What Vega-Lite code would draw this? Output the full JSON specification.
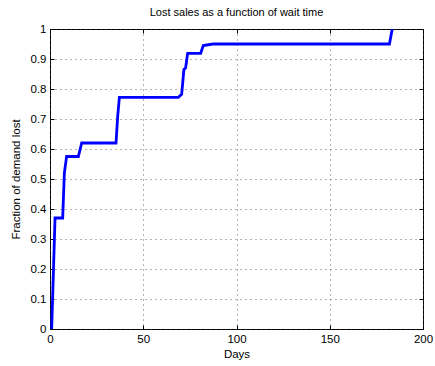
{
  "$schema": "https://vega.github.io/schema/vega-lite/v6.json",
  "autosize": "none",
  "width": 373,
  "height": 300,
  "padding": {"left": 50, "top": 29, "right": 12, "bottom": 37},
  "background": "white",
  "config": {
    "font": "Liberation Sans",
    "view": {"stroke": "black", "strokeWidth": 1},
    "axis": {
      "labelFont": "Liberation Sans",
      "titleFont": "Liberation Sans",
      "labelFontSize": 11.5,
      "titleFontSize": 11.5,
      "titleFontWeight": "normal",
      "labelColor": "black",
      "titleColor": "black",
      "labelFlush": false,
      "labelOverlap": false,
      "domain": false,
      "tickColor": "black",
      "tickSize": -4,
      "grid": true,
      "gridColor": "#444444",
      "gridDash": [1, 4],
      "gridOpacity": 0.8
    }
  },
  "title": {"text": "Lost sales as a function of wait time", "fontSize": 11, "fontWeight": "normal", "font": "Liberation Sans", "offset": 5, "color": "black"},
  "data": {"values": [
    {"day": 0.9, "frac": 0},
    {"day": 2.7, "frac": 0.37},
    {"day": 6.8, "frac": 0.37},
    {"day": 7.7, "frac": 0.52},
    {"day": 8.9, "frac": 0.575},
    {"day": 15.2, "frac": 0.575},
    {"day": 17, "frac": 0.62},
    {"day": 35.4, "frac": 0.62},
    {"day": 36.3, "frac": 0.71},
    {"day": 37.2, "frac": 0.772},
    {"day": 68.8, "frac": 0.772},
    {"day": 70.6, "frac": 0.782},
    {"day": 71.8, "frac": 0.865},
    {"day": 72.7, "frac": 0.87},
    {"day": 73.8, "frac": 0.919},
    {"day": 80.8, "frac": 0.919},
    {"day": 82.2, "frac": 0.945},
    {"day": 87.4, "frac": 0.95},
    {"day": 182, "frac": 0.95},
    {"day": 183.5, "frac": 1}
  ]},
  "resolve": {"axis": {"x": "independent", "y": "independent"}},
  "layer": [
    {
      "mark": {"type": "line", "color": "#0000ff", "strokeWidth": 2.8, "clip": true},
      "encoding": {
        "x": {"field": "day", "type": "quantitative", "scale": {"domain": [0, 200], "nice": false},
              "axis": {"title": "Days", "values": [0, 50, 100, 150, 200], "labelPadding": 8, "titlePadding": 4}},
        "y": {"field": "frac", "type": "quantitative", "scale": {"domain": [0, 1], "nice": false},
              "axis": {"title": "Fraction of demand lost", "values": [0, 0.1, 0.2, 0.3, 0.4, 0.5, 0.6, 0.7, 0.8, 0.9, 1], "labelPadding": 8, "titlePadding": 9, "format": "~g"}}
      }
    },
    {
      "mark": {"type": "line", "opacity": 0},
      "encoding": {
        "x": {"field": "day", "type": "quantitative", "scale": {"domain": [0, 200], "nice": false},
              "axis": {"orient": "top", "title": null, "labels": false, "grid": false, "values": [0, 50, 100, 150, 200]}},
        "y": {"field": "frac", "type": "quantitative", "scale": {"domain": [0, 1], "nice": false},
              "axis": {"orient": "right", "title": null, "labels": false, "grid": false, "values": [0, 0.1, 0.2, 0.3, 0.4, 0.5, 0.6, 0.7, 0.8, 0.9, 1]}}
      }
    }
  ]
}
